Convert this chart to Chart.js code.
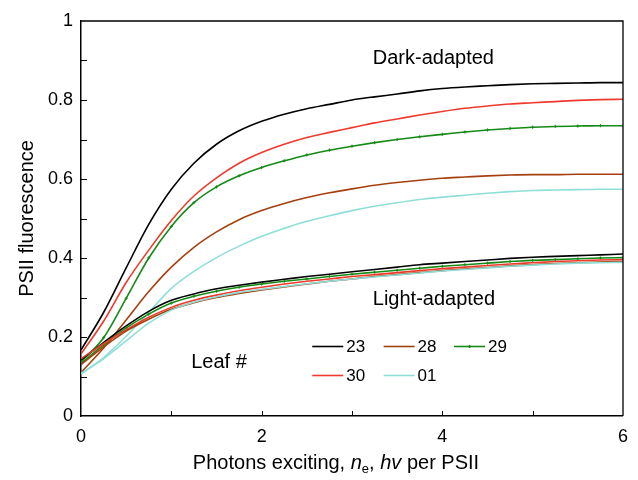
<!DOCTYPE html>
<html>
<head>
<meta charset="utf-8">
<script src="https://cdn.jsdelivr.net/npm/chart.js@4"></script>
<style>
  html, body { margin: 0; padding: 0; background: #fff; }
</style>
</head>
<body>
<canvas id="c" width="638" height="480"></canvas>
<script>
// photons exciting per PSII (x values shared by every curve)
const xs = [0, 0.25, 0.5, 0.75, 1, 1.25, 1.5, 1.75, 2, 2.25, 2.5, 2.75, 3,
            3.25, 3.5, 3.75, 4, 4.25, 4.5, 4.75, 5, 5.25, 5.5, 5.75, 6];

// dark-adapted leaves
const dark23 = [0.167, 0.262, 0.375, 0.485, 0.574, 0.64, 0.688, 0.722, 0.746, 0.764, 0.778, 0.789, 0.8,
                0.808, 0.815, 0.823, 0.829, 0.833, 0.836, 0.839, 0.841, 0.842, 0.843, 0.844, 0.844];
const dark30 = [0.157, 0.24, 0.338, 0.42, 0.495, 0.557, 0.603, 0.64, 0.667, 0.688, 0.705, 0.718, 0.73,
                0.742, 0.752, 0.762, 0.771, 0.779, 0.785, 0.79, 0.793, 0.796, 0.799, 0.801, 0.802];
const dark29 = [0.137, 0.198, 0.298, 0.4, 0.48, 0.54, 0.58, 0.608, 0.629, 0.646, 0.661, 0.673, 0.683,
                0.692, 0.7, 0.707, 0.713, 0.719, 0.724, 0.728, 0.731, 0.733, 0.734, 0.735, 0.735];
const dark28 = [0.11, 0.172, 0.243, 0.315, 0.377, 0.427, 0.466, 0.497, 0.52, 0.538, 0.553, 0.565, 0.575,
                0.584, 0.591, 0.597, 0.602, 0.605, 0.608, 0.61, 0.611, 0.611, 0.612, 0.612, 0.612];
const dark01 = [0.106, 0.148, 0.202, 0.262, 0.323, 0.366, 0.401, 0.43, 0.455, 0.475, 0.493, 0.507, 0.52,
                0.531, 0.54, 0.548, 0.554, 0.559, 0.564, 0.568, 0.571, 0.572, 0.573, 0.574, 0.574];

// light-adapted leaves
const light23 = [0.142, 0.186, 0.228, 0.265, 0.293, 0.309, 0.322, 0.331, 0.339, 0.346, 0.353, 0.359, 0.365,
                 0.371, 0.377, 0.383, 0.387, 0.391, 0.395, 0.399, 0.402, 0.404, 0.406, 0.408, 0.41];
const light29 = [0.133, 0.18, 0.223, 0.258, 0.286, 0.303, 0.316, 0.326, 0.334, 0.341, 0.347, 0.353, 0.359,
                 0.364, 0.369, 0.374, 0.379, 0.383, 0.387, 0.391, 0.394, 0.396, 0.398, 0.4, 0.401];
const light30 = [0.145, 0.183, 0.218, 0.25, 0.275, 0.293, 0.306, 0.317, 0.326, 0.334, 0.341, 0.347, 0.353,
                 0.358, 0.363, 0.368, 0.373, 0.377, 0.381, 0.385, 0.388, 0.391, 0.393, 0.395, 0.396];
const light28 = [0.13, 0.175, 0.215, 0.245, 0.27, 0.287, 0.3, 0.31, 0.319, 0.327, 0.334, 0.341, 0.347,
                 0.353, 0.358, 0.363, 0.368, 0.372, 0.376, 0.38, 0.383, 0.386, 0.388, 0.39, 0.391];
const light01 = [0.108, 0.145, 0.19, 0.235, 0.268, 0.288, 0.302, 0.313, 0.321, 0.328, 0.335, 0.341, 0.347,
                 0.352, 0.357, 0.362, 0.367, 0.371, 0.375, 0.379, 0.382, 0.385, 0.387, 0.388, 0.389];

const leafIds = ['23', '28', '29', '30', '01'];
const leafColors = { '23': '#000000', '28': '#a5400e', '29': '#168a16', '30': '#ee3a2c', '01': '#8fdfd8' };

const xTicks = [0, 2, 4, 6];
const yTicks = [0, 0.2, 0.4, 0.6, 0.8, 1];

const FONT = '"Liberation Sans", Arial, Helvetica, sans-serif';
Chart.defaults.font.family = FONT;
Chart.defaults.color = '#000';

function pts(ys) {
  return xs.map((x, i) => ({ x: x, y: ys[i] }));
}

function makeSet(id, ys) {
  const isGreen = id === '29';
  return {
    label: id,
    data: pts(ys),
    borderColor: leafColors[id],
    backgroundColor: leafColors[id],
    borderWidth: 1.6,
    pointRadius: isGreen ? 1.6 : 0,
    pointStyle: 'cross',
    pointBorderWidth: 1,
    cubicInterpolationMode: 'monotone',
    fill: false
  };
}

const datasets = [
  makeSet('01', light01), makeSet('28', light28), makeSet('30', light30), makeSet('29', light29), makeSet('23', light23),
  makeSet('01', dark01), makeSet('28', dark28), makeSet('29', dark29), makeSet('30', dark30), makeSet('23', dark23)
];

// frame, inward ticks, titles, labels and legend
const extras = {
  id: 'extras',
  afterDraw(chart) {
    const ctx = chart.ctx;
    const a = chart.chartArea;
    const x = chart.scales.x, y = chart.scales.y;
    ctx.save();
    ctx.strokeStyle = '#000';
    ctx.lineWidth = 1.3;
    ctx.beginPath();
    ctx.moveTo(a.left, a.top);
    ctx.lineTo(a.right, a.top);
    ctx.lineTo(a.right, a.bottom);
    ctx.stroke();

    ctx.lineWidth = 1;
    ctx.beginPath();
    [1, 2, 3, 4, 5].forEach(v => {
      const px = Math.round(x.getPixelForValue(v)) + 0.5;
      ctx.moveTo(px, a.bottom);
      ctx.lineTo(px, a.bottom - 5);
    });
    [0.1, 0.2, 0.3, 0.4, 0.5, 0.6, 0.7, 0.8, 0.9].forEach(v => {
      const py = Math.round(y.getPixelForValue(v)) + 0.5;
      ctx.moveTo(a.left, py);
      ctx.lineTo(a.left + 6, py);
    });
    ctx.stroke();

    ctx.fillStyle = '#000';
    ctx.textBaseline = 'alphabetic';

    // y title
    ctx.save();
    ctx.translate(33, (a.top + a.bottom) / 2);
    ctx.rotate(-Math.PI / 2);
    ctx.textAlign = 'center';
    ctx.font = '20px ' + FONT;
    ctx.fillText('PSII fluorescence', 0, 0);
    ctx.restore();

    // x title with italic parts and subscript
    const parts = [
      { t: 'Photons exciting, ', f: '20px ' + FONT, dy: 0 },
      { t: 'n', f: 'italic 20px ' + FONT, dy: 0 },
      { t: 'e', f: '13px ' + FONT, dy: 4 },
      { t: ', ', f: '20px ' + FONT, dy: 0 },
      { t: 'hv', f: 'italic 20px ' + FONT, dy: 0 },
      { t: ' per PSII', f: '20px ' + FONT, dy: 0 }
    ];
    ctx.textAlign = 'left';
    let total = 0;
    parts.forEach(p => { ctx.font = p.f; p.w = ctx.measureText(p.t).width; total += p.w; });
    let cx = 336 - total / 2;
    parts.forEach(p => { ctx.font = p.f; ctx.fillText(p.t, cx, 469 + p.dy); cx += p.w; });

    // annotations placed in data coordinates
    ctx.font = '20px ' + FONT;
    ctx.textAlign = 'left';
    ctx.fillText('Dark-adapted', x.getPixelForValue(3.23), y.getPixelForValue(0.89));
    ctx.fillText('Light-adapted', x.getPixelForValue(3.23), y.getPixelForValue(0.281));
    ctx.fillText('Leaf #', x.getPixelForValue(1.22), y.getPixelForValue(0.122));

    // legend: two rows of short line samples
    const slots = [
      { id: '23', x: 2.56, y: 0.178 }, { id: '28', x: 3.35, y: 0.178 }, { id: '29', x: 4.13, y: 0.178 },
      { id: '30', x: 2.56, y: 0.103 }, { id: '01', x: 3.35, y: 0.103 }
    ];
    ctx.font = '17px ' + FONT;
    ctx.textBaseline = 'middle';
    slots.forEach(s => {
      const lx = x.getPixelForValue(s.x), ly = Math.round(y.getPixelForValue(s.y)) + 0.5;
      ctx.strokeStyle = leafColors[s.id];
      ctx.lineWidth = 1.6;
      ctx.beginPath();
      ctx.moveTo(lx, ly);
      ctx.lineTo(lx + 31, ly);
      ctx.stroke();
      if (s.id === '29') {
        ctx.beginPath();
        ctx.moveTo(lx + 15.5, ly - 1.5);
        ctx.lineTo(lx + 15.5, ly + 1.5);
        ctx.stroke();
      }
      ctx.fillStyle = '#000';
      ctx.fillText(s.id, lx + 34, ly + 1);
    });
    ctx.restore();
  }
};

new Chart(document.getElementById('c'), {
  type: 'line',
  data: { datasets: datasets },
  options: {
    responsive: false,
    animation: false,
    devicePixelRatio: 1,
    layout: { padding: { top: 21, right: 11, left: 0, bottom: 0 } },
    plugins: { legend: { display: false }, tooltip: { enabled: false } },
    scales: {
      x: {
        type: 'linear',
        min: 0, max: 6,
        afterFit: s => { s.height = 64; },
        afterBuildTicks: s => { s.ticks = xTicks.map(v => ({ value: v })); },
        ticks: { font: { size: 18 }, padding: 10, maxRotation: 0, color: '#000' },
        grid: { drawOnChartArea: false, drawTicks: false },
        border: { color: '#000', width: 1.5 }
      },
      y: {
        min: 0, max: 1,
        afterFit: s => { s.width = 81; },
        afterBuildTicks: s => { s.ticks = yTicks.map(v => ({ value: v })); },
        ticks: {
          font: { size: 18 }, padding: 8, color: '#000',
          callback: v => (v === 0 || v === 1) ? String(v) : v.toFixed(1)
        },
        grid: { drawOnChartArea: false, drawTicks: false },
        border: { color: '#000', width: 1.5 }
      }
    }
  },
  plugins: [extras]
});
</script>
</body>
</html>
